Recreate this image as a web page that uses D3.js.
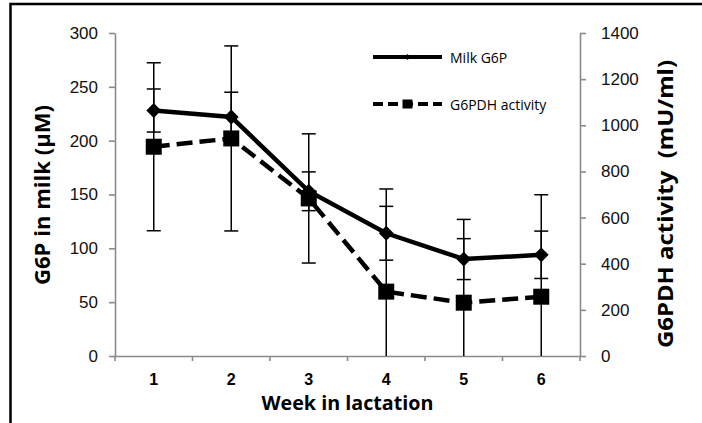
<!DOCTYPE html>
<html>
<head>
<meta charset="utf-8">
<script src="https://cdn.jsdelivr.net/npm/d3@7"></script>
<style>
  body { margin: 0; background: #fff; }
  svg { display: block; font-family: "Open Sans", sans-serif; }
</style>
</head>
<body>
<svg id="chart" width="702" height="423"></svg>
<script>
// data
var weeks = [1, 2, 3, 4, 5, 6];
var milkG6P = [228, 222, 153, 114, 90, 94];          // uM, left axis
var milkG6PErr = [20, 23, 18, 25, 19, 22];
var g6pdh = [907, 943, 683, 279, 231, 257];           // mU/ml, right axis
var g6pdhErr = [364, 401, 280, 445, 361, 442];
var leftTicks = [0, 50, 100, 150, 200, 250, 300];
var rightTicks = [0, 200, 400, 600, 800, 1000, 1200, 1400];
var seriesNames = ["Milk G6P", "G6PDH activity"];

var svg = d3.select("#chart");
// plot area (note: "top" is taken by window.top, so prefix these)
var plotL = 115, plotR = 580, plotT = 33, plotB = 356;
var axisColor = "#8a8a8a";

// frame round the figure (only left and top edges fall inside the window)
svg.append("rect")
  .attr("x", 10.5).attr("y", 4)
  .attr("width", 900).attr("height", 600)
  .attr("fill", "none").attr("stroke", "#000").attr("stroke-width", 2.5);

var xScale = d3.scaleBand().domain(weeks).range([plotL, plotR]);
var yLeft = d3.scaleLinear().domain([0, 300]).range([plotB, plotT]);
var yRight = d3.scaleLinear().domain([0, 1400]).range([plotB, plotT]);

svg.append("clipPath").attr("id", "plotClip")
  .append("rect")
  .attr("x", plotL).attr("y", plotT - 10)
  .attr("width", plotR - plotL).attr("height", plotB - plotT + 10);

// axes
var gLeft = svg.append("g")
  .attr("transform", "translate(" + plotL + ",0)")
  .call(d3.axisLeft(yLeft).tickValues(leftTicks).tickSize(6).tickPadding(11).tickSizeOuter(0));

var gRight = svg.append("g")
  .attr("transform", "translate(" + plotR + ",0)")
  .call(d3.axisRight(yRight).tickValues(rightTicks).tickFormat(d3.format("d"))
    .tickSize(6).tickPadding(15).tickSizeOuter(0));

var gBottom = svg.append("g")
  .attr("transform", "translate(0," + plotB + ")")
  .call(d3.axisBottom(xScale).tickSize(0).tickPadding(18).tickSizeOuter(0));

// category boundary ticks on the x axis
var bounds = weeks.map(function(d) { return xScale(d); }).concat([xScale.range()[1]]);
gBottom.selectAll(".bound")
  .data(bounds)
  .enter().append("line")
  .attr("class", "bound")
  .attr("x1", function(d) { return d; }).attr("x2", function(d) { return d; })
  .attr("y1", 0).attr("y2", 5);

[gLeft, gRight, gBottom].forEach(function(g) {
  g.selectAll(".domain, line, .bound").attr("stroke", axisColor).attr("stroke-width", 1.6);
  g.selectAll("text").attr("fill", "#111").style("font-size", "17px");
});
gBottom.selectAll("text").style("font-size", "16px").style("font-weight", "bold").attr("fill", "#000");

// axis titles
svg.append("text")
  .attr("transform", "translate(41,195) rotate(-90)")
  .attr("text-anchor", "middle").attr("dominant-baseline", "central")
  .attr("textLength", 180).attr("lengthAdjust", "spacingAndGlyphs")
  .style("font-size", "22px").style("font-weight", "bold")
  .text("G6P in milk (µM)");

svg.append("text")
  .attr("transform", "translate(664,204) rotate(-90)")
  .attr("text-anchor", "middle").attr("dominant-baseline", "central")
  .attr("textLength", 288).attr("lengthAdjust", "spacingAndGlyphs")
  .style("font-size", "22px").style("font-weight", "bold").style("white-space", "pre")
  .text("G6PDH activity  (mU/ml)");

svg.append("text")
  .attr("x", (plotL + plotR) / 2).attr("y", 410)
  .attr("text-anchor", "middle")
  .attr("textLength", 172).attr("lengthAdjust", "spacingAndGlyphs")
  .style("font-size", "20px").style("font-weight", "bold")
  .text("Week in lactation");

var cx = function(d, i) { return xScale(weeks[i]) + xScale.bandwidth() / 2; };
var plot = svg.append("g").attr("clip-path", "url(#plotClip)");

// error bars
function errorBars(vals, errs, y) {
  var g = plot.append("g").attr("stroke", "#000").attr("stroke-width", 1.5);
  g.selectAll(".stem").data(vals).enter().append("line")
    .attr("x1", cx).attr("x2", cx)
    .attr("y1", function(d, i) { return y(d + errs[i]); })
    .attr("y2", function(d, i) { return y(d - errs[i]); });
  [1, -1].forEach(function(s) {
    g.selectAll(".cap" + s).data(vals).enter().append("line")
      .attr("x1", function(d, i) { return cx(d, i) - 7; })
      .attr("x2", function(d, i) { return cx(d, i) + 7; })
      .attr("y1", function(d, i) { return y(d + s * errs[i]); })
      .attr("y2", function(d, i) { return y(d + s * errs[i]); });
  });
}
errorBars(milkG6P, milkG6PErr, yLeft);
errorBars(g6pdh, g6pdhErr, yRight);

// lines
var dashes = "16,7";
var lineLeft = d3.line().x(cx).y(function(d) { return yLeft(d); });
var lineRight = d3.line().x(cx).y(function(d) { return yRight(d); });

plot.append("path").datum(milkG6P)
  .attr("d", lineLeft)
  .attr("fill", "none").attr("stroke", "#000").attr("stroke-width", 4.5);

plot.append("path").datum(g6pdh)
  .attr("d", lineRight)
  .attr("fill", "none").attr("stroke", "#000").attr("stroke-width", 4.5)
  .attr("stroke-dasharray", dashes);

// markers
var diamond = d3.symbol().type(d3.symbolDiamond2).size(140);
svg.selectAll(".dia").data(milkG6P).enter().append("path")
  .attr("d", diamond)
  .attr("transform", function(d, i) { return "translate(" + cx(d, i) + "," + yLeft(d) + ")"; })
  .attr("fill", "#000");

svg.selectAll(".sq").data(g6pdh).enter().append("rect")
  .attr("x", function(d, i) { return cx(d, i) - 8; })
  .attr("y", function(d) { return yRight(d) - 8; })
  .attr("width", 16).attr("height", 16)
  .attr("fill", "#000");

// legend
var legend = svg.append("g");
var legY = [57, 104];
legend.selectAll(".lline").data(seriesNames).enter().append("line")
  .attr("x1", 373).attr("x2", 442)
  .attr("y1", function(d, i) { return legY[i]; })
  .attr("y2", function(d, i) { return legY[i]; })
  .attr("stroke", "#000").attr("stroke-width", 4)
  .attr("stroke-dasharray", function(d, i) { return i ? "10,5" : null; });

legend.append("path")
  .attr("d", d3.symbol().type(d3.symbolDiamond2).size(22))
  .attr("transform", "translate(407.5," + legY[0] + ")");
legend.append("rect")
  .attr("x", 402.5).attr("y", legY[1] - 4.5).attr("width", 10).attr("height", 9);

legend.selectAll(".ltext").data(seriesNames).enter().append("text")
  .attr("x", 450)
  .attr("y", function(d, i) { return legY[i]; })
  .attr("dominant-baseline", "central")
  .style("font-size", "14px")
  .text(function(d) { return d; });
</script>
</body>
</html>
